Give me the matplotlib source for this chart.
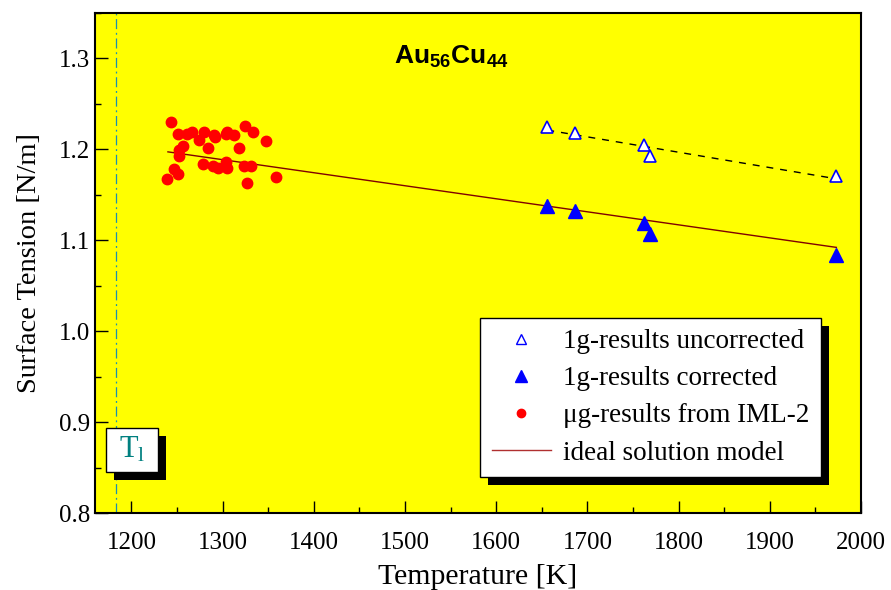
import numpy as np
import matplotlib.pyplot as plt
from matplotlib.lines import Line2D
from matplotlib.patches import Rectangle
from matplotlib.ticker import MultipleLocator

plt.rcParams['font.family'] = ['Liberation Serif', 'DejaVu Serif']
plt.rcParams['mathtext.fontset'] = 'custom'
plt.rcParams['mathtext.rm'] = 'Liberation Serif'
plt.rcParams['mathtext.bf'] = 'Liberation Sans:bold'

# 1g results, uncorrected and corrected
t_1g = [1656, 1686, 1762, 1769, 1973]
st_uncorr = [1.224, 1.218, 1.204, 1.193, 1.170]
st_corr = [1.138, 1.132, 1.119, 1.107, 1.084]

# microgravity results from IML-2
t_ug = [1243, 1251, 1261, 1266, 1280, 1274, 1291, 1292, 1305, 1304, 1312, 1324,
        1333, 1347, 1256, 1252, 1252, 1284, 1318, 1247, 1251, 1239, 1278, 1289,
        1295, 1304, 1305, 1323, 1331, 1327, 1358]
st_ug = [1.230, 1.217, 1.217, 1.219, 1.219, 1.210, 1.216, 1.213, 1.219, 1.217,
         1.215, 1.225, 1.219, 1.209, 1.203, 1.199, 1.193, 1.201, 1.201, 1.178,
         1.173, 1.167, 1.184, 1.181, 1.179, 1.186, 1.179, 1.181, 1.181, 1.163,
         1.169]

# ideal solution model
t_model = [1240, 1973]
st_model = [1.197, 1.092]

t_liquidus = 1183

fig = plt.figure(figsize=(8.91, 5.90), dpi=100)
ax = fig.add_axes([0.1066, 0.1305, 0.8597, 0.848])
ax.set_facecolor('#ffff00')

ax.axvline(t_liquidus, color='#1a8fb0', lw=0.9, ls=(0, (8, 3, 1.5, 3)), zorder=1)

ax.plot(t_model, st_model, color='#800000', lw=1.0, zorder=2)

# linear fit through uncorrected data (dashed)
p = np.polyfit(t_1g, st_uncorr, 1)
tf = np.array([min(t_1g), max(t_1g)])
ax.plot(tf, np.polyval(p, tf), color='black', lw=1.0, ls=(0, (5, 5)), zorder=2)

ax.plot(t_ug, st_ug, 'o', color='#ff0000', ms=7.5, mec='#ff0000', zorder=3)
ax.plot(t_1g, st_uncorr, '^', ms=9, mfc='white', mec='#0000ff', mew=1.2, zorder=3)
ax.plot(t_1g, st_corr, '^', ms=10.5, color='#0000ff', zorder=3)

ax.set_xlim(1160, 2000)
ax.set_ylim(0.8, 1.35)
ax.xaxis.set_major_locator(MultipleLocator(100))
ax.xaxis.set_minor_locator(MultipleLocator(50))
ax.yaxis.set_major_locator(MultipleLocator(0.1))
ax.yaxis.set_minor_locator(MultipleLocator(0.05))
ax.tick_params(which='both', direction='in', top=False, right=False, labelsize=18)
ax.tick_params(which='major', length=9, width=1)
ax.tick_params(which='minor', length=4.5, width=1)
ax.tick_params(axis='x', pad=14)
for s in ax.spines.values():
    s.set_linewidth(1.5)

ax.set_xlabel('Temperature [K]', fontsize=21.5, labelpad=7)
ax.set_ylabel('Surface Tension [N/m]', fontsize=20.5, labelpad=12)

ax.text(0.465, 0.912, r'$\mathbf{Au_{56}Cu_{44}}$', transform=ax.transAxes,
        fontsize=19, ha='center', va='center')

handles = [
    Line2D([], [], marker='^', ls='none', ms=7, mfc='white', mec='#0000ff', mew=1),
    Line2D([], [], marker='^', ls='none', ms=8, color='#0000ff'),
    Line2D([], [], marker='o', ls='none', ms=6, color='#ff0000'),
    Line2D([], [], color='#b03030', lw=1),
]
labels = ['1g-results uncorrected', '1g-results corrected',
          'μg-results from IML-2', 'ideal solution model']
leg = ax.legend(handles, labels, loc='lower right', bbox_to_anchor=(0.948, 0.072),
                borderaxespad=0, fontsize=19.5, frameon=True, fancybox=False,
                framealpha=1, edgecolor='black', handlelength=2.2,
                handletextpad=0.45, labelspacing=0.45, borderpad=0.42)
leg.get_frame().set_linewidth(1.0)

# T_l label box
box = (0.0144, 0.082, 0.0678, 0.088)
ax.add_patch(Rectangle(box[:2], box[2], box[3], transform=ax.transAxes,
                       fc='white', ec='black', lw=1, zorder=4, clip_on=False))
ax.text(box[0] + box[2] / 2, box[1] + box[3] / 2, r'$\mathrm{T_l}$',
        transform=ax.transAxes, fontsize=22, color='#008080',
        ha='center', va='center', zorder=5)

# drop shadows behind the legend and the T_l box
fig.canvas.draw()
inv = fig.transFigure.inverted()
off = 8
tl_bb = ax.patches[-1].get_window_extent()
for bb in [leg.get_frame().get_window_extent(), tl_bb]:
    b = bb.translated(off, -off).transformed(inv)
    ax.add_patch(Rectangle((b.x0, b.y0), b.width, b.height, transform=fig.transFigure,
                           fc='black', ec='none', zorder=2.9, clip_on=False))

fig.savefig('out.png', dpi=100)
